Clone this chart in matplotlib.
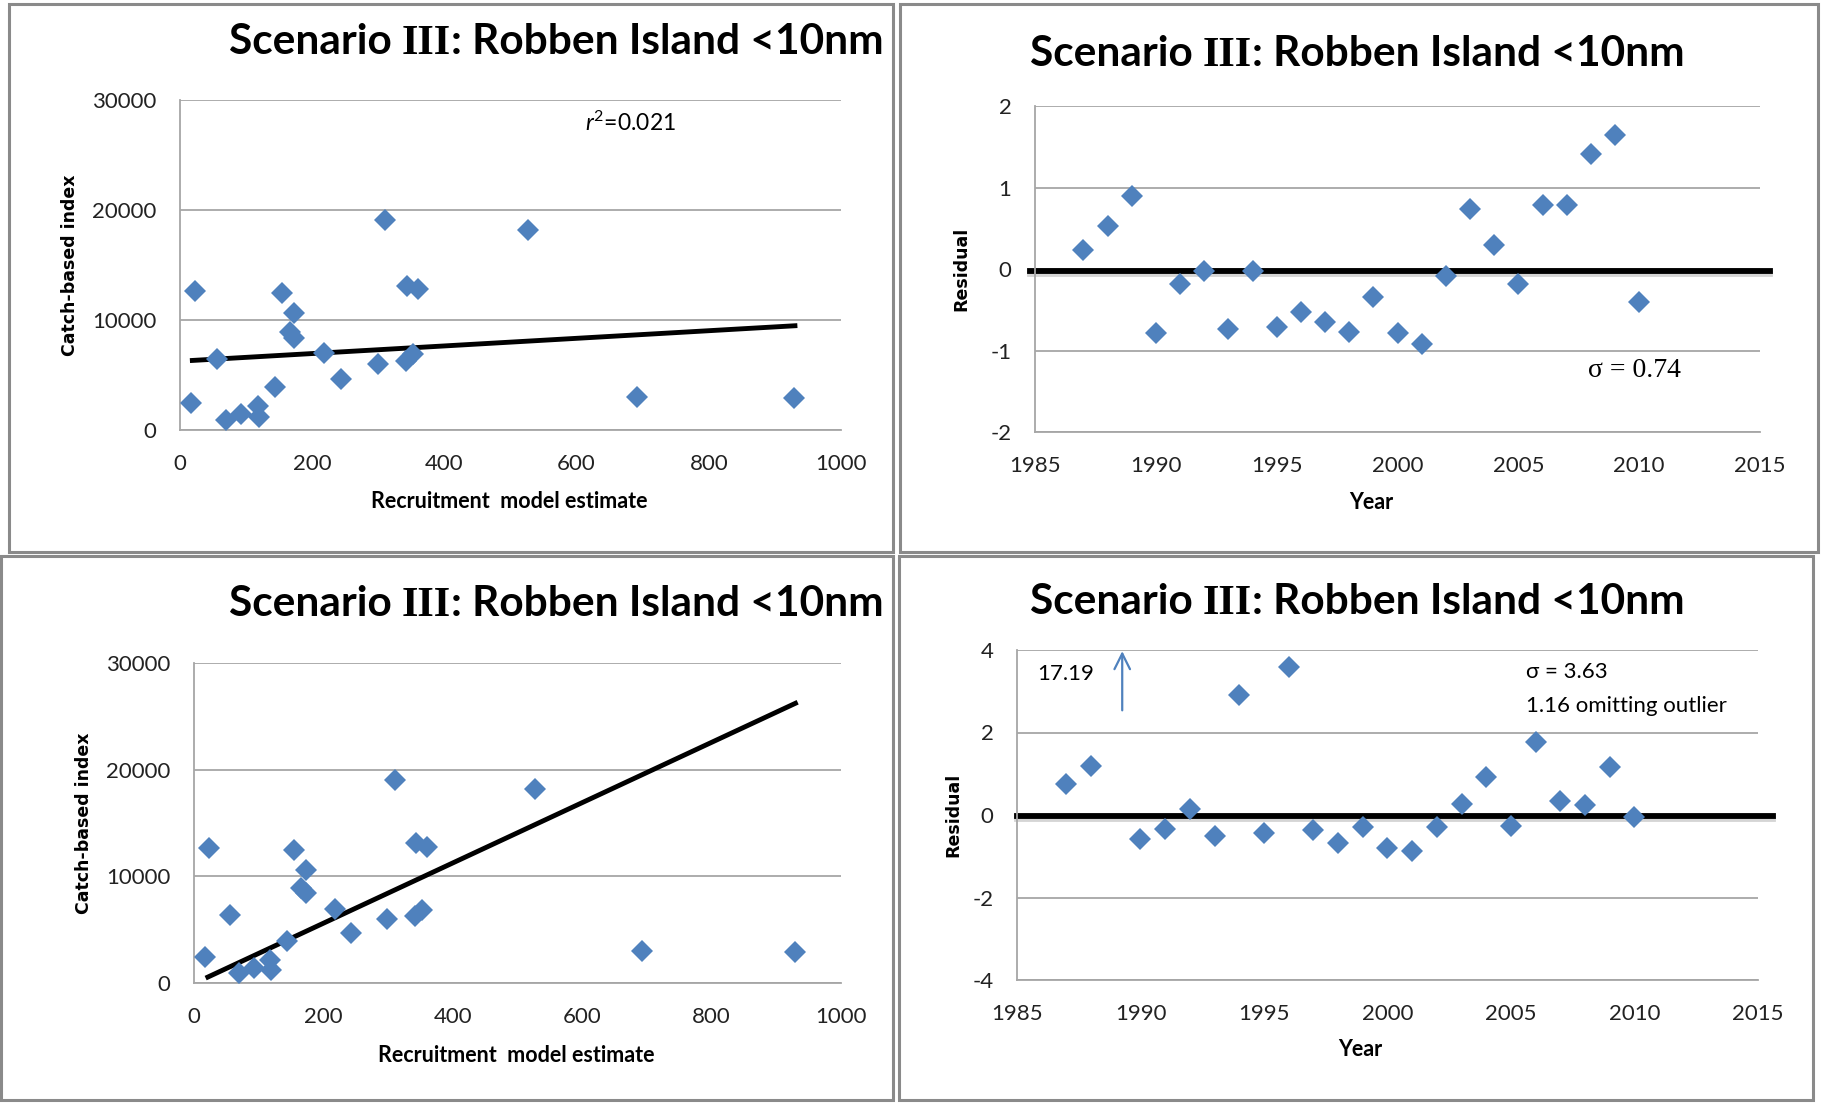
import matplotlib
matplotlib.use('Agg')
import matplotlib.pyplot as plt
import matplotlib.patheffects as pe
from matplotlib.patches import Rectangle
from matplotlib.offsetbox import TextArea, HPacker, AnnotationBbox

plt.rcParams['font.family'] = ['Lato', 'DejaVu Sans']
plt.rcParams['mathtext.fontset'] = 'custom'
plt.rcParams['mathtext.it'] = 'Lato:italic'
plt.rcParams['mathtext.rm'] = 'Lato'
plt.rcParams['axes.unicode_minus'] = False

# recruitment model estimate vs catch-based index (same points in both scatter panels)
recruit = [17, 23, 56, 70, 93, 118, 119, 144, 155, 166, 173, 173, 218, 243,
           299, 310, 343, 342, 352, 360, 527, 692, 929]
catch_idx = [2470, 12660, 6410, 930, 1410, 2150, 1190, 3910, 12470, 8880, 8400,
             10640, 6960, 4680, 5990, 19070, 13110, 6250, 6890, 12790, 18200,
             3010, 2880]

# fitted lines (end points)
fit_top_x = [15, 934]
fit_top_y = [6310, 9490]
fit_bot_x = [18, 933]
fit_bot_y = [460, 26320]

# residuals, top panel
years_top = list(range(1987, 2011))
resid_top = [0.23, 0.53, 0.89, -0.79, -0.18, -0.02, -0.74, -0.02, -0.71, -0.53,
             -0.65, -0.77, -0.34, -0.78, -0.92, -0.09, 0.74, 0.29, -0.19, 0.79,
             0.79, 1.41, 1.65, -0.40]

# residuals, bottom panel (1989 outlier of 17.19 shown by an arrow)
years_bot = [1987, 1988] + list(range(1990, 2011))
resid_bot = [0.74, 1.20, -0.58, -0.35, 0.15, -0.52, 2.90, -0.44, 3.58, -0.37,
             -0.68, -0.28, -0.81, -0.87, -0.28, 0.27, 0.91, -0.27, 1.78, 0.35,
             0.24, 1.17, -0.06]
outlier_year = 1989.26
outlier_value = 17.19

W, H = 1822, 1103
BLUE = '#4f81bd'
GRID = '#a6a6a6'
TICK_FS = 16
MS = 11.5
fig = plt.figure(figsize=(W / 100, H / 100), dpi=100)


def add_ax(l, r, t, b):
    ax = fig.add_axes([l / W, 1 - b / H, (r - l) / W, (b - t) / H])
    ax.grid(axis='y', color=GRID, lw=1.3)
    ax.set_axisbelow(True)
    for s in ('top', 'right'):
        ax.spines[s].set_visible(False)
    for s in ('left', 'bottom'):
        ax.spines[s].set_color(GRID)
        ax.spines[s].set_linewidth(1.3)
    ax.tick_params(length=0, pad=17, labelsize=TICK_FS, colors='#222222')
    ax.box = (l, r, t, b)
    return ax


def labels(ax, xlabel, xl_pos, ylabel, yl_pos):
    l, r, t, b = ax.box
    ax.set_xlabel(xlabel, fontsize=15.5, fontweight='bold')
    ax.xaxis.set_label_coords((xl_pos[0] - l) / (r - l), (b - xl_pos[1]) / (b - t))
    ax.xaxis.label.set_va('center')
    ax.set_ylabel(ylabel, fontsize=12.5, fontweight='bold', family='DejaVu Sans')
    ax.yaxis.set_label_coords((yl_pos[0] - l) / (r - l), (b - yl_pos[1]) / (b - t))
    ax.yaxis.label.set_va('center')


def title(cx, cy):
    fs = 30.5
    parts = [TextArea('Scenario ', textprops=dict(fontsize=fs, fontweight='bold')),
             TextArea('III', textprops=dict(fontsize=fs, fontweight='bold',
                                            family='Liberation Serif')),
             TextArea(': Robben Island <10nm', textprops=dict(fontsize=fs, fontweight='bold'))]
    box = HPacker(children=parts, align='baseline', pad=0, sep=0)
    ab = AnnotationBbox(box, (cx / W, 1 - cy / H), xycoords='figure fraction',
                        frameon=False, box_alignment=(0.5, 0.5))
    fig.add_artist(ab)


def frame(x0, y0, x1, y1):
    fig.add_artist(Rectangle((x0 / W, 1 - y1 / H), (x1 - x0) / W, (y1 - y0) / H,
                             transform=fig.transFigure, fill=False,
                             ec='#8a8a8a', lw=2.2))


shadow = [pe.SimpleLineShadow(offset=(0, -2), shadow_color='#888888', alpha=0.35),
          pe.Normal()]

# panel frames
frame(9, 4, 893, 552)
frame(900, 4, 1818, 552)
frame(1, 556, 893, 1100)
frame(899, 556, 1813, 1100)

# top-left scatter
ax1 = add_ax(180, 841, 100, 430)
ax1.plot(recruit, catch_idx, 'D', color=BLUE, ms=MS, mew=0, zorder=3)
ax1.plot(fit_top_x, fit_top_y, color='black', lw=3.5, solid_capstyle='butt', zorder=2)
ax1.set_xlim(0, 1000)
ax1.set_ylim(0, 30000)
ax1.set_xticks(range(0, 1001, 200))
ax1.set_yticks(range(0, 30001, 10000))
ax1.text(613, 27950, r'$r^2$=0.021', fontsize=16.5, va='center', ha='left')
labels(ax1, 'Recruitment  model estimate', (509, 502), 'Catch-based index', (70, 265))
title(556, 43)

# top-right residuals
ax2 = add_ax(1035, 1760, 106, 432)
ax2.plot(years_top, resid_top, 'D', color=BLUE, ms=MS, mew=0, zorder=3)
ax2.plot([1984.8, 2015.4], [-0.03, -0.03], color='black', lw=4.2, clip_on=False,
         path_effects=shadow, zorder=2)
ax2.set_xlim(1985, 2015)
ax2.set_ylim(-2, 2)
ax2.set_xticks(range(1985, 2016, 5))
ax2.set_yticks(range(-2, 3))
ax2.text(2007.9, -1.24, 'σ = 0.74', fontsize=20, family='Liberation Serif',
         va='center', ha='left')
labels(ax2, 'Year', (1371, 502), 'Residual', (961, 269))
title(1357, 55)

# bottom-left scatter
ax3 = add_ax(194, 841, 663, 983)
ax3.plot(recruit, catch_idx, 'D', color=BLUE, ms=MS, mew=0, zorder=3)
ax3.plot(fit_bot_x, fit_bot_y, color='black', lw=3.5, solid_capstyle='butt', zorder=2)
ax3.set_xlim(0, 1000)
ax3.set_ylim(0, 30000)
ax3.set_xticks(range(0, 1001, 200))
ax3.set_yticks(range(0, 30001, 10000))
labels(ax3, 'Recruitment  model estimate', (516, 1055), 'Catch-based index', (84, 823))
title(556, 605)

# bottom-right residuals
ax4 = add_ax(1017, 1758, 650, 980)
ax4.plot(years_bot, resid_bot, 'D', color=BLUE, ms=MS, mew=0, zorder=3)
ax4.plot([1985, 2015.6], [-0.03, -0.03], color='black', lw=4.2, clip_on=False,
         path_effects=shadow, zorder=2)
ax4.set_xlim(1985, 2015)
ax4.set_ylim(-4, 4)
ax4.set_xticks(range(1985, 2016, 5))
ax4.set_yticks(range(-4, 5, 2))
ax4.annotate('', xy=(outlier_year, 4.04), xytext=(outlier_year, 2.47),
             arrowprops=dict(arrowstyle='->', color=BLUE, lw=1.6, mutation_scale=28),
             annotation_clip=False)
ax4.text(1985.8, 3.43, f'{outlier_value:.2f}', fontsize=16, va='center', ha='left')
ax4.text(2005.6, 3.47, 'σ = 3.63', fontsize=16, va='center', ha='left')
ax4.text(2005.6, 2.64, '1.16 omitting outlier', fontsize=16, va='center', ha='left')
labels(ax4, 'Year', (1360, 1050), 'Residual', (953, 815))
title(1357, 603)

fig.savefig('out.png', dpi=100)
